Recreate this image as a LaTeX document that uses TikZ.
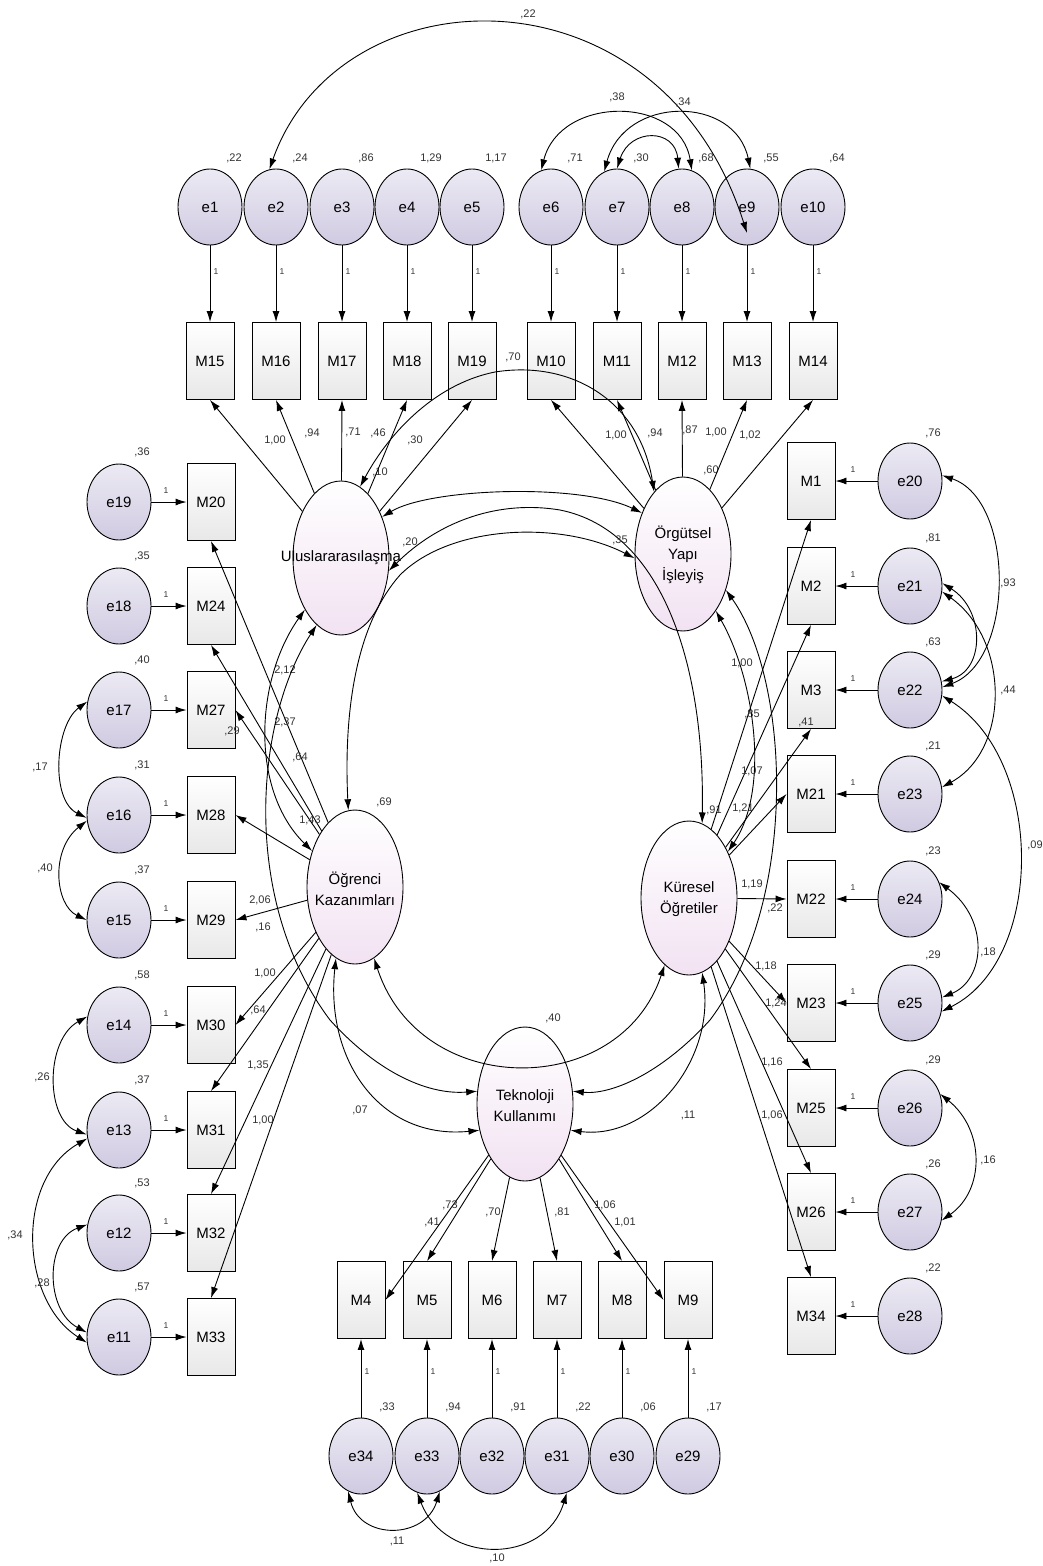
\documentclass[tikz,border=0pt]{standalone}
\usepackage{fontspec}
\setmainfont{Liberation Sans}
\usetikzlibrary{shapes.geometric,arrows.meta}
\definecolor{errtop}{RGB}{236,234,244}
\definecolor{errbot}{RGB}{208,202,225}
\definecolor{latbot}{RGB}{242,226,242}
\definecolor{boxbot}{RGB}{232,232,232}
\newcommand\numlab[3]{\node[num] (#1) at (#2) {#3};}
\begin{document}
\begin{tikzpicture}[x=1pt,y=-1pt,
  font=\fontsize{15}{19}\selectfont,
  ln/.style={line width=0.9pt},
  reg/.style={ln,-{Latex[length=11pt,width=7pt]}},
  cov/.style={ln,{Latex[length=11pt,width=7pt]}-{Latex[length=11pt,width=7pt]}},
  err/.style={ellipse,draw,line width=0.9pt,minimum width=64pt,minimum height=76pt,inner sep=0pt,top color=errtop,bottom color=errbot},
  lat/.style={ellipse,draw,line width=0.9pt,minimum width=96pt,minimum height=154pt,inner sep=0pt,top color=white,bottom color=latbot},
  obs/.style={rectangle,draw,line width=0.9pt,minimum width=48pt,minimum height=77pt,inner sep=0pt,top color=white,bottom color=boxbot},
  num/.style={font=\fontsize{11}{12}\selectfont,text=black!80,inner sep=1pt},
  one/.style={font=\fontsize{8.5}{9}\selectfont,text=black!80,inner sep=1pt},
  latlab/.style={align=center,font=\fontsize{15}{21}\selectfont,inner sep=0pt}
]
\fill[white] (0,0) rectangle (1043,1566);
\useasboundingbox (0,0) rectangle (1043,1566);

% ---------- top row ----------
\foreach \e/\m/\x/\v in {1/15/210/{,22}, 2/16/276/{,24}, 3/17/342/{,86}, 4/18/407/{1,29}, 5/19/472/{1,17}, 6/10/551/{,71}, 7/11/617/{,30}, 8/12/682/{,68}, 9/13/747/{,55}, 10/14/813/{,64}}{
  \node[err] (e\e) at (\x,207) {e\e};
  \node[obs] (M\m) at (\x,361) {M\m};
  \draw[reg] (e\e) -- (M\m);
  \node[num] (ve\e) at (\x+24,158) {\v};
  \node[one] (oe\e) at (\x+6,272) {1};
}
% ---------- left column ----------
\foreach \e/\m/\y/\v in {19/20/502/{,36}, 18/24/606/{,35}, 17/27/710/{,40}, 16/28/815/{,31}, 15/29/920/{,37}, 14/30/1025/{,58}, 13/31/1130/{,37}, 12/32/1233/{,53}, 11/33/1337/{,57}}{
  \node[err] (e\e) at (119,\y) {e\e};
  \node[obs] (M\m) at (211,\y) {M\m};
  \draw[reg] (e\e) -- (M\m);
  \node[num] (ve\e) at (142,\y-50) {\v};
  \node[one] (oe\e) at (166,\y-11) {1};
}
% ---------- right column ----------
\foreach \e/\m/\y/\v in {20/1/481/{,76}, 21/2/586/{,81}, 22/3/690/{,63}, 23/21/794/{,21}, 24/22/899/{,23}, 25/23/1003/{,29}, 26/25/1108/{,29}, 27/26/1212/{,26}, 28/34/1316/{,22}}{
  \node[err] (e\e) at (910,\y) {e\e};
  \node[obs] (M\m) at (811,\y) {M\m};
  \draw[reg] (e\e) -- (M\m);
  \node[num] (ve\e) at (933,\y-48) {\v};
  \node[one] (oe\e) at (853,\y-11) {1};
}
% ---------- bottom row ----------
\foreach \e/\m/\x/\v in {34/4/361/{,33}, 33/5/427/{,94}, 32/6/492/{,91}, 31/7/557/{,22}, 30/8/622/{,06}, 29/9/688/{,17}}{
  \node[obs] (M\m) at (\x,1300) {M\m};
  \node[err] (e\e) at (\x,1456) {e\e};
  \draw[reg] (e\e) -- (M\m);
  \node[num] (ve\e) at (\x+26,1407) {\v};
  \node[one] (oe\e) at (\x+6,1372) {1};
}

% ---------- latent variables ----------
\node[lat] (U) at (341,558) {};
\node[latlab] (Ut) at (341,558) {Uluslararasılaşma};
\node[lat] (O) at (683,554) {};
\node[latlab] (Ot) at (683,555) {Örgütsel\\Yapı\\İşleyiş};
\node[lat] (S) at (355,887) {};
\node[latlab] (St) at (355,889) {Öğrenci\\Kazanımları};
\node[lat] (K) at (689,898) {};
\node[latlab] (Kt) at (689,899) {Küresel\\Öğretiler};
\node[lat] (T) at (525,1104) {};
\node[latlab] (Tt) at (525,1106) {Teknoloji\\Kullanımı};

\numlab{vU}{380,472}{,10}
\numlab{vO}{711,470}{,60}
\numlab{vS}{384,802}{,69}
\numlab{vK}{714,810}{,91}
\numlab{vT}{553,1018}{,40}

% ---------- loadings ----------
\foreach \m in {15,16,17,18,19} \draw[reg] (U) -- (M\m.south);
\foreach \m in {10,11,12,13,14} \draw[reg] (O) -- (M\m.south);
\foreach \m/\a in {20/south,24/south,27/east,28/east,29/east,30/east,31/north,32/north,33/north} \draw[reg] (S) -- (M\m.\a);
\foreach \m/\a in {1/south,2/south,3/south,21/west,22/west,23/west,25/north,26/north,34/north} \draw[reg] (K) -- (M\m.\a);
\draw[reg] (T) -- (M4.east);
\foreach \m in {5,6,7,8} \draw[reg] (T) -- (M\m.north);
\draw[reg] (T) -- (M9.west);

% loading labels
\numlab{a1}{275,440}{1,00}
\numlab{a2}{312,433}{,94}
\numlab{a3}{353,432}{,71}
\numlab{a4}{378,433}{,46}
\numlab{a5}{415,440}{,30}
\numlab{b1}{616,435}{1,00}
\numlab{b2}{655,433}{,94}
\numlab{b3}{690,430}{,87}
\numlab{b4}{716,432}{1,00}
\numlab{b5}{750,435}{1,02}
\numlab{c1}{285,670}{2,12}
\numlab{c2}{285,722}{2,37}
\numlab{c3}{300,757}{,64}
\numlab{c4}{310,820}{1,43}
\numlab{c5}{260,900}{2,06}
\numlab{c6}{263,927}{,16}
\numlab{c7}{265,973}{1,00}
\numlab{c8}{258,1010}{,64}
\numlab{c9}{258,1065}{1,35}
\numlab{c10}{263,1120}{1,00}
\numlab{d1}{742,663}{1,00}
\numlab{d2}{752,714}{,85}
\numlab{d3}{806,722}{,41}
\numlab{d4}{752,771}{1,07}
\numlab{d5}{743,808}{1,21}
\numlab{d6}{752,884}{1,19}
\numlab{d7}{775,908}{,22}
\numlab{d8}{766,966}{1,18}
\numlab{d9}{776,1003}{1,24}
\numlab{d10}{772,1062}{1,16}
\numlab{d11}{772,1115}{1,06}
\numlab{f1}{450,1205}{,73}
\numlab{f2}{432,1222}{,41}
\numlab{f3}{493,1212}{,70}
\numlab{f4}{562,1212}{,81}
\numlab{f5}{605,1205}{1,06}
\numlab{f6}{625,1222}{1,01}

% ---------- error covariances ----------
\coordinate (e9in) at (747,233);
\draw[cov] (e2.100) .. controls (340,-30) and (660,-40) .. (e9in);
\numlab{k1}{528,14}{,22}
\draw[cov] (e6.105) .. controls (560,95) and (680,95) .. (e8.75);
\numlab{k2}{617,97}{,38}
\draw[cov] (e7.110) .. controls (625,95) and (735,95) .. (e9.85);
\numlab{k3}{683,102}{,34}
\draw[cov] (e7.90) .. controls (630,128) and (675,128) .. (e8.95);

\draw[cov] (e17.165) .. controls (55,725) and (50,800) .. (e16.185);
\numlab{k4}{40,767}{,17}
\draw[cov] (e16.190) .. controls (50,850) and (55,905) .. (e15.west);
\numlab{k5}{45,868}{,40}
\draw[cov] (e14.165) .. controls (45,1040) and (45,1120) .. (e13.188);
\numlab{k6}{42,1077}{,26}
\draw[cov] (e13.195) .. controls (15,1180) and (20,1300) .. (e11.190);
\numlab{k7}{15,1235}{,34}
\draw[cov] (e12.165) .. controls (45,1240) and (45,1310) .. (e11.172);
\numlab{k8}{42,1283}{,28}

\draw[cov] (e20.10) .. controls (1015,500) and (1015,660) .. (e22.5);
\numlab{k9}{1008,583}{,93}
\draw[cov] (e21.5) .. controls (985,610) and (985,670) .. (e22.15);
\draw[cov] (e21.350) .. controls (1010,640) and (1010,750) .. (e23.12);
\numlab{k10}{1008,690}{,44}
\draw[cov] (e22.350) .. controls (1045,760) and (1045,960) .. (e25.345);
\numlab{k11}{1035,845}{,09}
\draw[cov] (e24.30) .. controls (990,920) and (985,980) .. (e25.10);
\numlab{k12}{988,952}{,18}
\draw[cov] (e26.25) .. controls (985,1130) and (985,1190) .. (e27.345);
\numlab{k13}{988,1160}{,16}

\draw[cov] (e34.250) .. controls (360,1540) and (425,1540) .. (e33.290);
\numlab{k14}{397,1541}{,11}
\draw[cov] (e33.255) .. controls (445,1565) and (545,1565) .. (e31.285);
\numlab{k15}{497,1558}{,10}

% ---------- latent covariances ----------
\draw[cov] (U.75) .. controls (385,440) and (430,385) .. (495,372) .. controls (570,360) and (640,400) .. (O.115);
\numlab{k16}{513,357}{,70}
\draw[cov] (U.45) .. controls (430,488) and (580,483) .. (O.135);
\draw[cov] (U.345) .. controls (440,520) and (500,500) .. (560,510) .. controls (660,530) and (705,660) .. (K.80);
\numlab{k17}{410,542}{,20}
\draw[cov] (O.185) .. controls (560,520) and (450,525) .. (400,575) .. controls (360,620) and (343,700) .. (S.95);
\numlab{k18}{620,540}{,35}
\draw[cov] (U.235) .. controls (255,680) and (250,790) .. (S.140);
\numlab{k19}{232,731}{,29}
\draw[cov] (U.250) .. controls (255,720) and (240,900) .. (330,1020) .. controls (380,1075) and (430,1095) .. (T.165);
\draw[cov] (O.300) .. controls (755,680) and (770,790) .. (K.50);
\draw[cov] (O.320) .. controls (790,680) and (800,900) .. (710,1020) .. controls (660,1075) and (610,1095) .. (T.15);
\draw[cov] (S.285) .. controls (420,1100) and (620,1100) .. (K.250);
\draw[cov] (S.255) .. controls (325,1060) and (380,1140) .. (T.210);
\numlab{k20}{360,1110}{,07}
\draw[cov] (K.280) .. controls (715,1060) and (650,1140) .. (T.330);
\numlab{k21}{688,1115}{,11}
\end{tikzpicture}
\end{document}
